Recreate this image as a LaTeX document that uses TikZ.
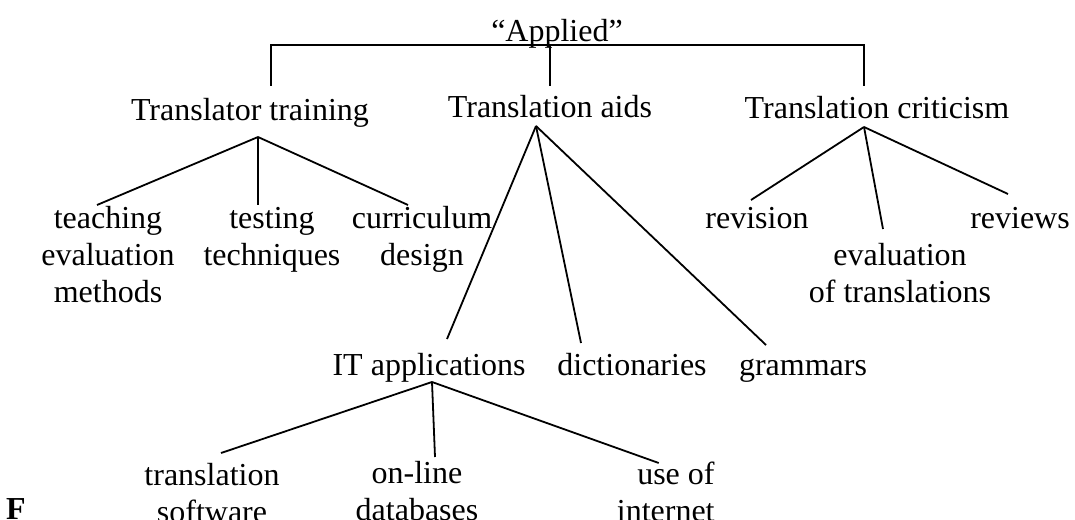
\documentclass[tikz,border=0pt]{standalone}
\usepackage{fontspec}
\setmainfont{Liberation Serif}
\usetikzlibrary{calc}

\begin{document}
\begin{tikzpicture}[
        x=0.5pt, y=-0.5pt,
        every node/.style={font=\fontsize{16}{18.5}\selectfont, inner sep=0pt},
        field/.style={anchor=base},
        leaf/.style={anchor=base, align=center},
        branch/.style={line width=0.9pt}
        ]
        \useasboundingbox (0,0) rectangle (1075,519);
        \clip (0,0) rectangle (1075,519);
        % top level
        \node[field] (AP) at (557,42)  {“Applied”};
        \node[field] (TT) at (250,120) {Translator training};
        \node[field] (TA) at (550,118) {Translation aids};
        \node[field] (TC) at (877,119) {Translation criticism};
        % translator training
        \node[leaf] (TEM) at (108,302) {teaching\\evaluation\\methods};
        \node[leaf] (TST) at (272,265) {testing\\techniques};
        \node[leaf] (CUR) at (422,265) {curriculum\\design};
        % translation criticism
        \node[leaf] (REV) at (757,228)  {revision};
        \node[leaf] (EVT) at (900,302)  {evaluation\\of translations};
        \node[leaf] (RVW) at (1020,228) {reviews};
        % translation aids
        \node[field] (IT)  at (429,375) {IT applications};
        \node[field] (DIC) at (632,375) {dictionaries};
        \node[field] (GRM) at (803,375) {grammars};
        % IT applications
        \node[leaf] (TSW) at (212,522) {translation\\software};
        \node[leaf] (OLD) at (417,520) {on-line\\databases};
        \node[leaf, anchor=base east, align=right] (UOI) at (715,521) {use of\\internet};
        \node[field] (FIG) at (16,519) {\bfseries F};
        % bar under "Applied"
        \draw[branch] ($(TT.base)+(21,-34)$) |- ($(AP.base)+(0,3)$) -| ($(TC.base)+(-13,-33)$);
        \draw[branch] ($(TA.base)+(0,-32)$) -- ++(0,-41);
        % branches
        \draw[branch] ($(TT.base)+(8,17)$) -- ($(TEM.base)+(-11,-97)$);
        \draw[branch] ($(TT.base)+(8,17)$) -- ($(TST.base)+(-14,-60)$);
        \draw[branch] ($(TT.base)+(8,17)$) -- ($(CUR.base)+(-14,-60)$);
        \draw[branch] ($(TC.base)+(-13,8)$) -- ($(REV.base)+(-6,-28)$);
        \draw[branch] ($(TC.base)+(-13,8)$) -- ($(EVT.base)+(-17,-73)$);
        \draw[branch] ($(TC.base)+(-13,8)$) -- ($(RVW.base)+(-12,-34)$);
        \draw[branch] ($(TA.base)+(-14,8)$) -- ($(IT.base)+(18,-36)$);
        \draw[branch] ($(TA.base)+(-14,8)$) -- ($(DIC.base)+(-51,-32)$);
        \draw[branch] ($(TA.base)+(-14,8)$) -- ($(GRM.base)+(-37,-30)$);
        \draw[branch] ($(IT.base)+(3,7)$) -- ($(TSW.base)+(9,-69)$);
        \draw[branch] ($(IT.base)+(3,7)$) -- ($(OLD.base)+(18,-63)$);
        \draw[branch] ($(IT.base)+(3,7)$) -- ($(UOI.base)+(-7,-58)$);
\end{tikzpicture}
\end{document}
